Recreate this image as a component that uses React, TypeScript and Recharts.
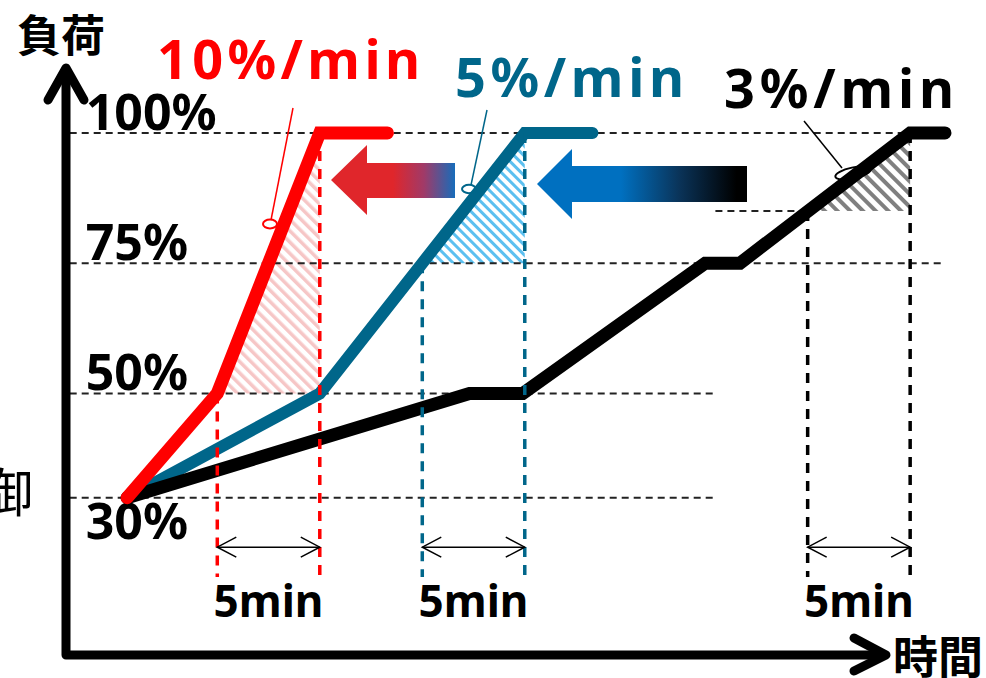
import React from 'react';
import { ComposedChart, Line, Area, XAxis, YAxis, ReferenceLine } from 'recharts';

const WIDTH = 986;
const HEIGHT = 678;

const RED = '#ff0000';
const TEAL = '#00668a';
const BLACK = '#000000';

const LATIN = "'Noto Sans', 'DejaVu Sans', sans-serif";
const CJK = "'Noto Sans CJK JP', sans-serif";

// t = minutes from the 30% start, v = load in %
const rate10 = [
  { t: 0, v: 30 },
  { t: 4.4, v: 50 },
  { t: 9.4, v: 100 },
  { t: 12.7, v: 100 },
];
const rate5 = [
  { t: 0, v: 30 },
  { t: 9.4, v: 50 },
  { t: 14.4, v: 75 },
  { t: 19.4, v: 100 },
  { t: 22.7, v: 100 },
];
const rate3 = [
  { t: 0, v: 30 },
  { t: 16.7, v: 50 },
  { t: 19.3, v: 50 },
  { t: 28.2, v: 75 },
  { t: 29.9, v: 75 },
  { t: 38.2, v: 100 },
  { t: 39.9, v: 100 },
];

// last 5 minutes of each ramp (hatched)
const last5Rate10 = [
  { t: 4.4, v: 50 },
  { t: 9.4, v: 100 },
];
const last5Rate5 = [
  { t: 14.4, v: 75 },
  { t: 19.4, v: 100 },
];
const last5Rate3 = [
  { t: 33.2, v: 85 },
  { t: 38.2, v: 100 },
];

// dashed load levels
const levelValues = [100, 75, 50, 30];
const levelLabels = ['100%', '75%', '50%', '30%'];
const levelEnds = [38.2, 39.7, 28.8, 28.8];
const levelStart = -2.8;

// 5 minute windows
const windowStarts = [4.4, 14.4, 33.2];
const windowEnds = [9.4, 19.4, 38.2];
const windowStartLoads = [50, 75, 85];
const windowColors = [RED, TEAL, BLACK];
const windowText = '5min';

const X_DOMAIN: [number, number] = [-6.2, 41.9];
const Y_DOMAIN: [number, number] = [-4.6, 125.5];
const GUIDE_FLOOR = 14.8;
const SPAN_LEVEL = 20.5;

const GUIDE_STROKE = '#222';

const LevelLabel = ({ viewBox, text, below }: any) => (
  <text
    x={viewBox.x + 16}
    y={below ? viewBox.y + 41 : viewBox.y - 3}
    fontFamily={LATIN}
    fontWeight={700}
    fontSize={50}
    fill="#000"
  >
    {text}
  </text>
);

const SpanLabel = ({ viewBox }: any) => (
  <text
    x={viewBox.x + viewBox.width / 2}
    y={viewBox.y + 70}
    textAnchor="middle"
    fontFamily={LATIN}
    fontWeight={700}
    fontSize={44}
    fill="#000"
  >
    {windowText}
  </text>
);

const DoubleArrow = (p: any) => (
  <line
    x1={p.x1}
    y1={p.y1}
    x2={p.x2}
    y2={p.y2}
    stroke="#000"
    strokeWidth={1.5}
    markerStart="url(#openHead)"
    markerEnd="url(#openHead)"
  />
);

const Defs = () => (
  <svg width={0} height={0} style={{ position: 'absolute' }}>
    <defs>
      <pattern id="hatchRed" width="8" height="8" patternUnits="userSpaceOnUse" patternTransform="rotate(-45)">
        <rect width="3.5" height="8" fill="#f6c6c6" />
      </pattern>
      <pattern id="hatchBlue" width="7" height="7" patternUnits="userSpaceOnUse" patternTransform="rotate(-45)">
        <rect width="3" height="7" fill="#5cc0f0" />
      </pattern>
      <pattern id="hatchGray" width="9" height="9" patternUnits="userSpaceOnUse" patternTransform="rotate(-45)">
        <rect width="4" height="9" fill="#808080" />
      </pattern>
      <linearGradient id="redToBlue" x1="0" y1="0" x2="1" y2="0">
        <stop offset="0" stopColor="#e0262b" />
        <stop offset="0.5" stopColor="#e0262b" />
        <stop offset="0.75" stopColor="#a03a68" />
        <stop offset="1" stopColor="#176cba" />
      </linearGradient>
      <linearGradient id="blueToBlack" x1="0" y1="0" x2="1" y2="0">
        <stop offset="0" stopColor="#0070c0" />
        <stop offset="0.4" stopColor="#0070c0" />
        <stop offset="0.68" stopColor="#0a3358" />
        <stop offset="0.95" stopColor="#000" />
      </linearGradient>
      <marker
        id="openHead"
        viewBox="-21 -12 23 24"
        refX="0"
        refY="0"
        markerWidth="23"
        markerHeight="24"
        markerUnits="userSpaceOnUse"
        orient="auto-start-reverse"
      >
        <path d="M-19,-10 L0,0 L-19,10" fill="none" stroke="#000" strokeWidth="1.5" />
      </marker>
    </defs>
  </svg>
);

// axes, rate captions, shift arrows and callouts drawn on top
const Overlay = () => (
  <svg
    width={WIDTH}
    height={HEIGHT}
    style={{ position: 'absolute', left: 0, top: 0, pointerEvents: 'none' }}
  >
    <polyline points="66,70 66,655 884,655" fill="none" stroke="#000" strokeWidth={9} strokeLinejoin="round" />
    <polyline points="48,100 66,68 84,100" fill="none" stroke="#000" strokeWidth={9} strokeLinecap="round" strokeLinejoin="round" />
    <polyline points="854,638 886,655 854,671" fill="none" stroke="#000" strokeWidth={9} strokeLinecap="round" strokeLinejoin="round" />

    <text x={17} y={52} fontFamily={CJK} fontWeight={700} fontSize={44} fill="#000">負荷</text>
    <text x={893} y={674} fontFamily={CJK} fontWeight={700} fontSize={45} fill="#000">時間</text>
    <text x={33} y={512} textAnchor="end" fontFamily={CJK} fontWeight={400} fontSize={52} fill="#000">制御</text>

    <text x={157} y={79} fontFamily={LATIN} fontWeight={700} fontSize={54} fill={RED} textLength={263} lengthAdjust="spacing">10%/min</text>
    <text x={455} y={97} fontFamily={LATIN} fontWeight={700} fontSize={54} fill={TEAL} textLength={229} lengthAdjust="spacing">5%/min</text>
    <text x={724} y={108} fontFamily={LATIN} fontWeight={700} fontSize={54} fill={BLACK} textLength={230} lengthAdjust="spacing">3%/min</text>

    <polygon points="331,180 367,145 367,163 455,163 455,198 367,198 367,215" fill="url(#redToBlue)" />
    <polygon points="537,184 572,149 572,166 747,166 747,202 572,202 572,219" fill="url(#blueToBlack)" />

    <line x1={271} y1={220} x2={293} y2={108} stroke={RED} strokeWidth={1.5} />
    <ellipse cx={270} cy={224} rx={7} ry={4.5} fill="none" stroke={RED} strokeWidth={2} />
    <line x1={471} y1={185} x2={487} y2={110} stroke={TEAL} strokeWidth={1.5} />
    <ellipse cx={469} cy={189} rx={7} ry={4.2} fill="none" stroke={TEAL} strokeWidth={2} />
    <line x1={804} y1={121} x2={842} y2={168} stroke={BLACK} strokeWidth={1.5} />
    <ellipse cx={853} cy={173} rx={18} ry={5.5} transform="rotate(-12 853 173)" fill="none" stroke={BLACK} strokeWidth={2} />
  </svg>
);

export default function App() {
  return (
    <div style={{ position: 'absolute', left: 0, top: 0, width: WIDTH, height: HEIGHT, background: '#fff' }}>
      <Defs />
      <ComposedChart width={WIDTH} height={HEIGHT} margin={{ top: 0, right: 0, bottom: 0, left: 0 }}>
        <XAxis type="number" dataKey="t" domain={X_DOMAIN} hide />
        <YAxis type="number" dataKey="v" domain={Y_DOMAIN} hide />

        <Area data={last5Rate10} dataKey="v" type="linear" baseValue={50} stroke="none" fill="url(#hatchRed)" fillOpacity={1} isAnimationActive={false} />
        <Area data={last5Rate5} dataKey="v" type="linear" baseValue={75} stroke="none" fill="url(#hatchBlue)" fillOpacity={1} isAnimationActive={false} />
        <Area data={last5Rate3} dataKey="v" type="linear" baseValue={85} stroke="none" fill="url(#hatchGray)" fillOpacity={1} isAnimationActive={false} />

        {levelValues.map((v, i) => (
          <ReferenceLine
            key={`lvl-${v}`}
            segment={[{ x: levelStart, y: v }, { x: levelEnds[i], y: v }]}
            stroke={GUIDE_STROKE}
            strokeWidth={2}
            strokeDasharray="7 5"
            label={(p: any) => <LevelLabel {...p} text={levelLabels[i]} below={v === 30} />}
          />
        ))}
        <ReferenceLine
          segment={[{ x: 28.7, y: 85 }, { x: windowStarts[2], y: 85 }]}
          stroke={GUIDE_STROKE}
          strokeWidth={2}
          strokeDasharray="7 5"
        />

        <Line data={rate5} dataKey="v" type="linear" stroke={TEAL} strokeWidth={12} dot={false} activeDot={false} strokeLinecap="round" strokeLinejoin="miter" isAnimationActive={false} />
        <Line data={rate3} dataKey="v" type="linear" stroke={BLACK} strokeWidth={13} dot={false} activeDot={false} strokeLinecap="round" strokeLinejoin="miter" isAnimationActive={false} />
        <Line data={rate10} dataKey="v" type="linear" stroke={RED} strokeWidth={13} dot={false} activeDot={false} strokeLinecap="round" strokeLinejoin="miter" isAnimationActive={false} />

        {windowStarts.map((s, i) => (
          <ReferenceLine
            key={`ws-${i}`}
            segment={[{ x: s, y: windowStartLoads[i] }, { x: s, y: GUIDE_FLOOR }]}
            stroke={windowColors[i]}
            strokeWidth={3.5}
            strokeDasharray="10 8"
          />
        ))}
        {windowEnds.map((e, i) => (
          <ReferenceLine
            key={`we-${i}`}
            segment={[{ x: e, y: 100 }, { x: e, y: GUIDE_FLOOR }]}
            stroke={windowColors[i]}
            strokeWidth={3.5}
            strokeDasharray="10 8"
          />
        ))}
        {windowStarts.map((s, i) => (
          <ReferenceLine
            key={`span-${i}`}
            segment={[{ x: s, y: SPAN_LEVEL }, { x: windowEnds[i], y: SPAN_LEVEL }]}
            shape={DoubleArrow}
            label={(p: any) => <SpanLabel {...p} />}
          />
        ))}
      </ComposedChart>
      <Overlay />
    </div>
  );
}
